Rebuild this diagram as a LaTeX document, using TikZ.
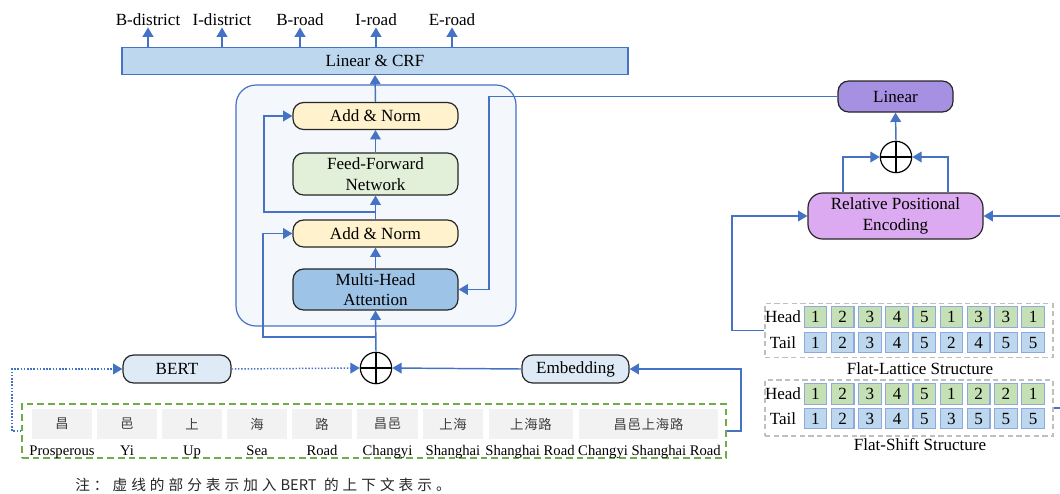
\documentclass[tikz,border=0pt]{standalone}
\usepackage{fontspec}
\setmainfont{Liberation Serif}
\newfontfamily\cjk{Noto Sans CJK SC}
\usetikzlibrary{arrows.meta}
\definecolor{cblue}{HTML}{4472C4}
\definecolor{crffill}{HTML}{BDD7EE}
\definecolor{blockfill}{HTML}{F4F8FC}
\definecolor{anfill}{HTML}{FFF2CC}
\definecolor{ffnfill}{HTML}{E2F0D9}
\definecolor{mhafill}{HTML}{9DC3E6}
\definecolor{bertfill}{HTML}{DEEBF7}
\definecolor{linfill}{HTML}{A690E2}
\definecolor{rpefill}{HTML}{DCAAF0}
\definecolor{cgreen}{HTML}{C5E0B4}
\definecolor{cbl}{HTML}{BDD7EE}
\definecolor{cellb}{HTML}{8EA9DB}
\definecolor{tgray}{HTML}{F2F2F2}
\definecolor{gdash}{HTML}{70AD47}
\definecolor{ldash}{HTML}{BFBFBF}
\newdimen\spcamt
\spcamt=3pt
\def\spcloop#1{\ifx#1\relax\else#1\kern\spcamt\expandafter\spcloop\fi}
\begin{document}
\begin{tikzpicture}[x=0.75pt,y=-0.75pt,
  every node/.style={font=\fontsize{12.8pt}{15pt}\selectfont},
  conn/.style={draw=cblue, line width=1.1pt, -{Triangle[length=7pt,width=8pt]}},
  plain/.style={draw=cblue, line width=1.1pt},
  dotconn/.style={draw=cblue, line width=1.1pt, dash pattern=on 1.1pt off 1.3pt, -{Triangle[length=7pt,width=8pt]}},
  rbox/.style={draw=black!85, line width=0.9pt, rounded corners=8pt, align=center, inner sep=0pt},
  oplus/.style={circle, draw=black, line width=0.9pt, fill=white, minimum size=23.5pt, inner sep=0pt,
    path picture={\draw[black, line width=0.9pt] (path picture bounding box.north) -- (path picture bounding box.south)
      (path picture bounding box.west) -- (path picture bounding box.east);}},
  outlab/.style={anchor=base, inner sep=1.5pt},
  tokcell/.style={fill=tgray, minimum height=22.5pt, inner sep=0pt, text=black!75,
    font=\cjk\fontsize{10pt}{11pt}\selectfont},
  toklab/.style={anchor=base, inner sep=0pt, font=\fontsize{11pt}{13pt}\selectfont},
  gcell/.style={fill=cgreen, draw=cellb, line width=0.9pt, minimum width=16.9pt, minimum height=15.4pt, inner sep=0pt},
  bcell/.style={gcell, fill=cbl},
  dbox/.style={draw=ldash, line width=0.9pt, dash pattern=on 4pt off 2.5pt, inner sep=0pt}
]
\useasboundingbox (0,0) rectangle (1060,493);

% ---------- Transformer block ----------
\node[draw=cblue, line width=0.9pt, fill=blockfill, rounded corners=15pt, minimum width=210pt, minimum height=180.75pt, inner sep=0pt] (block) at (376,205.5) {};
\node[rbox, fill=anfill, minimum width=123.75pt, minimum height=20.25pt] (an2) at (375.5,116) {Add \& Norm};
\node[rbox, fill=ffnfill, minimum width=123.75pt, minimum height=31.5pt] (ffn) at (375.5,174) {Feed-Forward\\[0.5pt]Network};
\node[rbox, fill=anfill, minimum width=123.75pt, minimum height=20.25pt] (an1) at (375.5,233.5) {Add \& Norm};
\node[rbox, fill=mhafill, minimum width=123.75pt, minimum height=30.75pt] (mha) at (375.5,289.5) {Multi-Head\\[0.5pt]Attention};

% ---------- Linear & CRF ----------
\node[draw=cblue, line width=0.9pt, fill=crffill, minimum width=379.5pt, minimum height=20pt, inner sep=0pt] (crf) at (375,61) {Linear \& CRF};
\node[outlab] (o1) at (148,25) {B-district};
\node[outlab] (o2) at (222,25) {I-district};
\node[outlab] (o3) at (300,25) {B-road};
\node[outlab] (o4) at (376,25) {I-road};
\node[outlab] (o5) at (452,25) {E-road};
\foreach \o in {o1,o2,o3,o4,o5} \draw[conn] (\o.south |- crf.north) -- (\o.south);

% ---------- inputs ----------
\node[oplus] (plus1) at (376,368) {};
\node[rbox, fill=bertfill, minimum width=81pt, minimum height=21pt] (bert) at (177,369) {BERT};
\node[rbox, fill=bertfill, minimum width=80.25pt, minimum height=21pt] (emb) at (575.5,369) {Embedding};
\node[draw=gdash, line width=1pt, dash pattern=on 5pt off 3pt, minimum width=528pt, minimum height=40.5pt, inner sep=0pt] (green) at (374,431) {};

\begingroup
\spcamt=0.6pt
\node[tokcell, minimum width=45pt] (c1) at (62,424) {\spcloop 昌\relax\unkern};
\node[tokcell, minimum width=45pt] (c2) at (127,424) {\spcloop 邑\relax\unkern};
\node[tokcell, minimum width=45pt] (c3) at (192,424) {\spcloop 上\relax\unkern};
\node[tokcell, minimum width=45pt] (c4) at (257,424) {\spcloop 海\relax\unkern};
\node[tokcell, minimum width=45pt] (c5) at (322,424) {\spcloop 路\relax\unkern};
\node[tokcell, minimum width=45.75pt] (c6) at (387.5,424) {\spcloop 昌邑\relax\unkern};
\node[tokcell, minimum width=45pt] (c7) at (453,424) {\spcloop 上海\relax\unkern};
\node[tokcell, minimum width=63pt] (c8) at (531,424) {\spcloop 上海路\relax\unkern};
\node[tokcell, minimum width=104.25pt] (c9) at (648.5,424) {\spcloop 昌邑上海路\relax\unkern};
\endgroup

\node[toklab] (e1) at (62,455) {Prosperous};
\node[toklab] (e2) at (127,455) {Yi};
\node[toklab] (e3) at (192,455) {Up};
\node[toklab] (e4) at (257,455) {Sea};
\node[toklab] (e5) at (322,455) {Road};
\node[toklab] (e6) at (387.5,455) {Changyi};
\node[toklab] (e7) at (453,455) {Shanghai};
\node[toklab] (e8) at (530,455) {Shanghai Road};
\node[toklab] (e9) at (649.5,455) {Changyi Shanghai Road};

% ---------- right side ----------
\node[rbox, fill=linfill, minimum width=86.25pt, minimum height=23.25pt] (linear) at (895.5,96.5) {Linear};
\node[oplus] (plus2) at (896,157) {};
\node[rbox, fill=rpefill, minimum width=131.25pt, minimum height=34.5pt, rounded corners=11pt] (rpe) at (895.5,216) {Relative Positional\\[0.5pt]Encoding};

\node[dbox, minimum width=216pt, minimum height=40.5pt] (lattice) at (909,330.5) {};
\node[dbox, minimum width=216pt, minimum height=42pt] (shift) at (909,408) {};
\node (lhead) at (783,317) {Head};
\node (ltail) at (783,342.5) {Tail};
\node (shead) at (783,394) {Head};
\node (stail) at (783,418.5) {Tail};
\foreach \v [count=\i] in {1,2,3,4,5,1,3,3,1} \node[gcell] (lh\i) at ({815.5+(\i-1)*27.2},317) {\v};
\foreach \v [count=\i] in {1,2,3,4,5,2,4,5,5} \node[bcell] (lt\i) at ({815.5+(\i-1)*27.2},342.5) {\v};
\foreach \v [count=\i] in {1,2,3,4,5,1,2,2,1} \node[gcell] (sh\i) at ({815.5+(\i-1)*27.2},394) {\v};
\foreach \v [count=\i] in {1,2,3,4,5,3,5,5,5} \node[bcell] (st\i) at ({815.5+(\i-1)*27.2},418.5) {\v};
\node (ltitle) at (920,369) {Flat-Lattice Structure};
\node (stitle) at (920,445) {Flat-Shift Structure};

% ---------- connectors ----------
\draw[conn] (mha.north) -- (an1.south);
\draw[conn] (an1.north) -- (ffn.south);
\draw[conn] (ffn.north) -- (an2.south);
\draw[conn] (an2.north) -- (crf.south);
\coordinate (j1) at (375.5,212);
\draw[conn] (j1) -- (264,212) |- (an2.west);
\coordinate (j2) at (376,337);
\draw[conn] (j2) -- (263,337) |- (an1.west);
\draw[conn] (plus1.north) -- (mha.south);
\draw[conn] (linear.west) -- (489,96.5) |- (mha.east);
\draw[dotconn] (green.west) -- (12,431) |- (bert.west);
\draw[dotconn] (bert.east) -- (plus1.west);
\draw[conn] (emb.west) -- (plus1.east);
\draw[conn] (green.east) -- (741,431) |- (emb.east);
\draw[conn] (plus2.north) -- (linear.south);
\draw[conn] ([xshift=-39.375pt]rpe.north) |- (plus2.west);
\draw[conn] ([xshift=39.375pt]rpe.north) |- (plus2.east);
\draw[conn] (lattice.west) -- (732,330.5) |- (rpe.west);
\coordinate (edgeR) at (1060,216);
\draw[conn] (edgeR) -- (rpe.east);
\coordinate (edgeR2) at (1060,408);
\draw[plain] (shift.east) -- (edgeR2);

% ---------- note ----------
\node[anchor=base west, inner sep=0pt, font=\cjk\fontsize{11pt}{12pt}\selectfont, text=black!85] (note) at (75,490)
  {\spcloop 注：虚线的部分表示加入\relax BERT\kern\spcamt\ \spcloop 的上下文表示。\relax\unkern};
\end{tikzpicture}
\end{document}
